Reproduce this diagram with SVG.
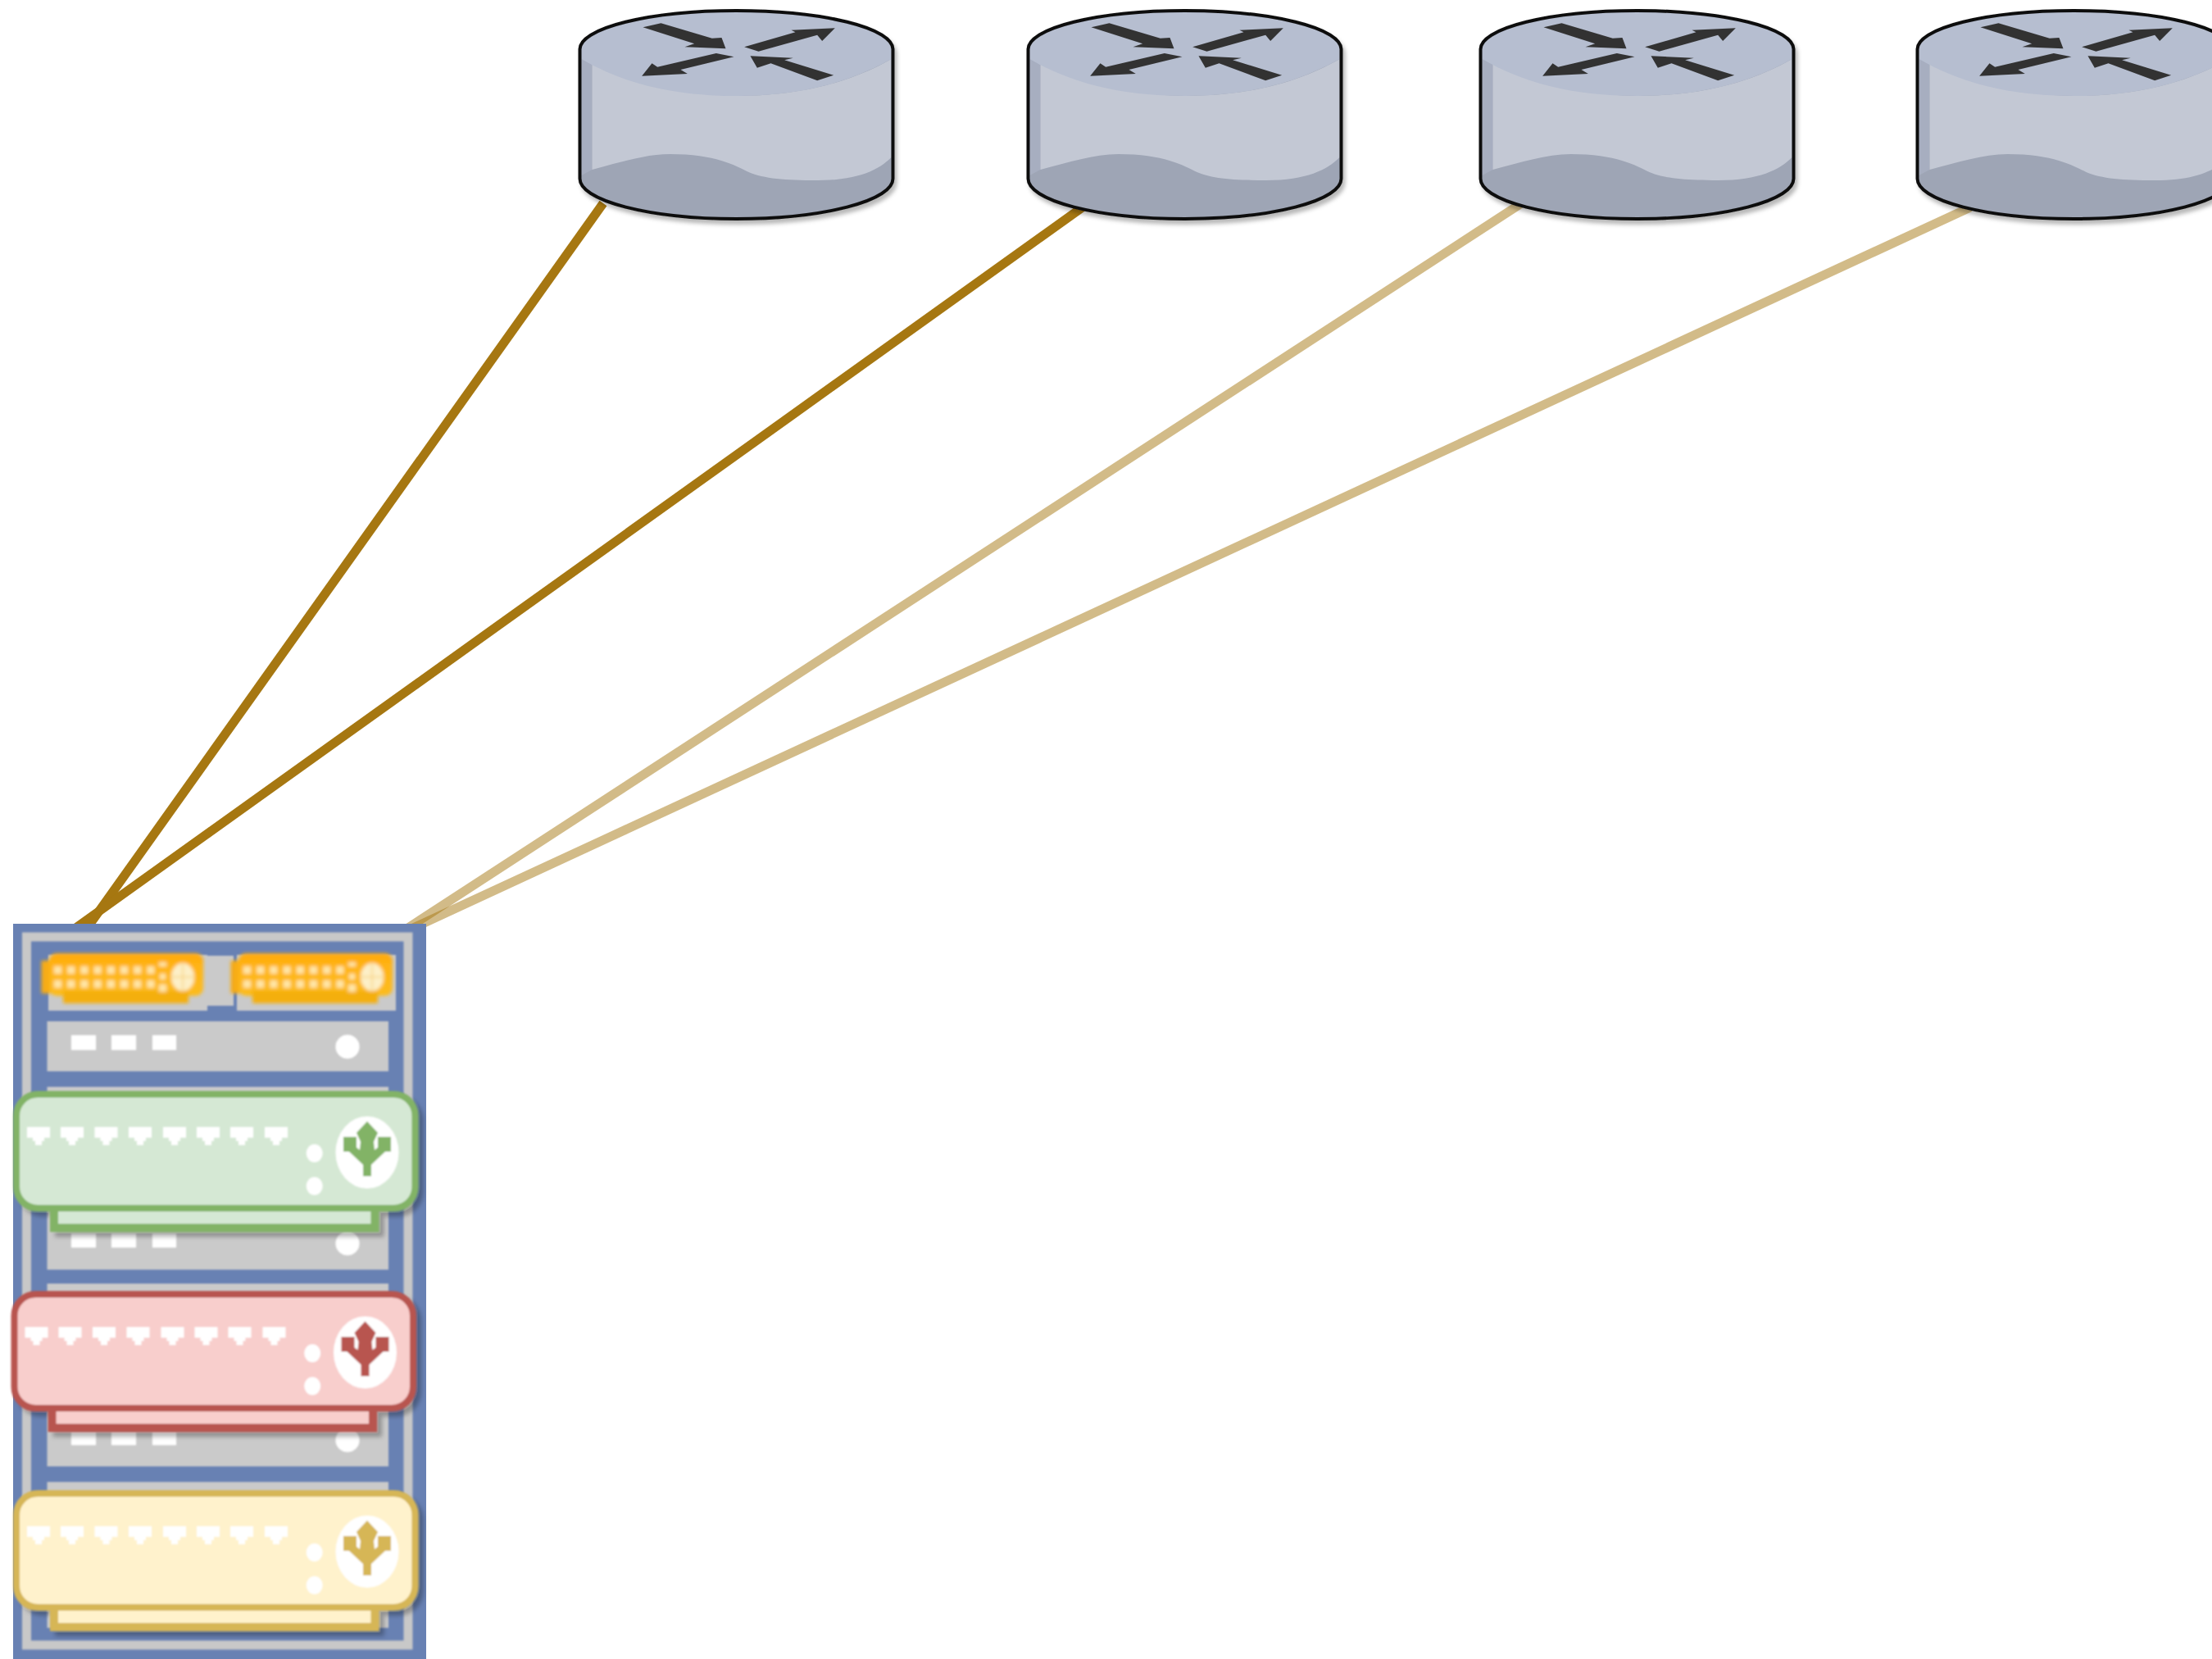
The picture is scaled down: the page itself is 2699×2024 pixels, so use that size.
<svg xmlns="http://www.w3.org/2000/svg" xmlns:xlink="http://www.w3.org/1999/xlink" width="2699" height="2024" viewBox="0 0 2699 2024">
<style>
.link{fill:none;stroke:#a67711;stroke-width:11}
.faint{stroke-opacity:.5}
.grey{fill:#cacaca}
.white{fill:#fff}
.body{stroke-width:8}
.foot{stroke-width:10}
.green{fill:#d5e8d4;stroke:#82b366}
.red{fill:#f8cecc;stroke:#b85450}
.yellow{fill:#fff2cc;stroke:#d6b656}
.iconG{fill:#82b366}.iconR{fill:#b85450}.iconY{fill:#d6b656}
</style>
<defs>
<filter id="soft" x="-5%" y="-5%" width="110%" height="110%"><feGaussianBlur stdDeviation="0.8"/></filter>
<filter id="softer" x="-10%" y="-10%" width="120%" height="120%"><feGaussianBlur stdDeviation="2"/></filter>
<filter id="swShadow" x="-5%" y="-10%" width="110%" height="125%"><feGaussianBlur in="SourceGraphic" stdDeviation="0.9" result="b"/><feDropShadow in="b" dx="6" dy="6" stdDeviation="2.5" flood-color="#000" flood-opacity="0.28"/></filter>
<filter id="rtShadow" x="-5%" y="-5%" width="110%" height="115%"><feGaussianBlur in="SourceGraphic" stdDeviation="0.6" result="b"/><feDropShadow in="b" dx="3" dy="5" stdDeviation="2.5" flood-color="#000" flood-opacity="0.28"/></filter>
<linearGradient id="amber" x1="0" y1="0" x2="0" y2="1"><stop offset="0" stop-color="#ffa808"/><stop offset=".3" stop-color="#ffb414"/><stop offset="1" stop-color="#fcbc20"/></linearGradient>

<g id="router">
<path d="M0 60A191 47 0 0 1 382 60V218A191 49 0 0 1 0 218Z" fill="#9ea5b5"/>
<path d="M0 60H15V207L0 215Z" fill="#a7aec0"/>
<path d="M15 78C90 108 150 117 192 117C280 117 340 95 380 72V192C365 207 340 220 290 220C250 220 225 218 206 210C190 202 165 188 110 188C80 188 50 198 15 207Z" fill="#c3c8d4"/>
<path d="M2 60A189 47 0 0 1 380 60V72C330 100 270 117 192 117C110 117 50 100 2 72Z" fill="#b6bed0"/>
<path d="M0 60A191 47 0 0 1 382 60V218A191 49 0 0 1 0 218Z" fill="none" stroke="#111" stroke-width="4"/>
<g transform="translate(-27 0) scale(.33333)" fill="#333">
<path d="M312 100L378 85L565 140L600 138L615 178L465 172L500 160Z"/>
<path d="M683 172L870 118L855 110L1015 103L968 150L950 128L735 188Z"/>
<path d="M580 195L645 208L450 255L475 270L308 278L345 232L365 245Z"/>
<path d="M1010 275L950 295L780 232L730 248L705 205L862 212L830 220Z"/>
</g>
</g>

<path id="port" d="M33 1375H61V1388H54V1392H51V1397H43V1392H40V1388H33Z"/>
<g id="ports" class="white">
<use xlink:href="#port"/><use xlink:href="#port" x="41"/><use xlink:href="#port" x="82.500"/><use xlink:href="#port" x="124"/><use xlink:href="#port" x="166"/><use xlink:href="#port" x="207"/><use xlink:href="#port" x="248"/><use xlink:href="#port" x="290"/>
<ellipse cx="383.700" cy="1407" rx="10" ry="11"/><ellipse cx="383.700" cy="1447" rx="10" ry="11"/>
<ellipse cx="448" cy="1406" rx="38.500" ry="44"/>
</g>
<path id="arrows" d="M-5 29V15L-22-1H-29V-19H-13V-6L-9-3L-8-13L-13-24L0-38L13-24L8-13L9-3L13-6V-19H29V-1H22L5 15V29Z"/>

<g id="amberSwitch">
<rect x="50.500" y="1172" width="12" height="40" fill="#f7ac12"/>
<rect x="60" y="1163" width="188" height="52" rx="9" fill="url(#amber)"/>
<rect x="77" y="1209" width="153" height="15" fill="#f4af0e"/>
<g fill="#ffe6a6">
<path d="M66 1179h9v9h-9zM82.200 1179h9v9h-9zM98.400 1179h9v9h-9zM114.600 1179h9v9h-9zM130.800 1179h9v9h-9zM147 1179h9v9h-9zM163.200 1179h9v9h-9zM179.400 1179h9v9h-9zM66 1196h9v9h-9zM82.200 1196h9v9h-9zM98.400 1196h9v9h-9zM114.600 1196h9v9h-9zM130.800 1196h9v9h-9zM147 1196h9v9h-9zM163.200 1196h9v9h-9zM179.400 1196h9v9h-9z"/>
<rect x="194" y="1174" width="9" height="5"/><rect x="195" y="1188" width="7" height="7"/><rect x="194" y="1201" width="9" height="9"/>
</g>
<ellipse cx="223" cy="1192" rx="14" ry="17" fill="#fdf0c8"/>
<path d="M223 1176V1208M209.500 1192H236.500" stroke="#f8d68a" stroke-width="2"/>
</g>
</defs>

<rect width="2699" height="2024" fill="#fff"/>

<g id="connectors">
<path class="link" d="M736 248L100 1141"/>
<path class="link" d="M1322 252L80 1141"/>
<path class="link faint" d="M1858 247L484 1141"/>
<path class="link faint" d="M2404 253L485 1141"/>
</g>

<g id="router-1"><use xlink:href="#router" x="707.500" filter="url(#rtShadow)"/></g>
<g id="router-2"><use xlink:href="#router" x="1254.500" filter="url(#rtShadow)"/></g>
<g id="router-3"><use xlink:href="#router" x="1806.500" filter="url(#rtShadow)"/></g>
<g id="router-4"><use xlink:href="#router" x="2339.500" filter="url(#rtShadow)"/></g>

<g id="rack">
<rect x="16" y="1127" width="504" height="897" fill="#6881b3"/>
<rect x="32.500" y="1143" width="465.500" height="864" fill="none" stroke="#c8c8c8" stroke-width="11" filter="url(#soft)"/>
<g filter="url(#soft)">
<rect class="grey" x="59" y="1165" width="194" height="68"/>
<rect class="grey" x="253" y="1166" width="32" height="61"/>
<rect class="grey" x="289" y="1165" width="194" height="68"/>
<rect class="grey" x="57.500" y="1246" width="416.500" height="61"/>
<rect class="grey" x="57.500" y="1326" width="416.500" height="223"/>
<rect class="grey" x="57.500" y="1566" width="416.500" height="223"/>
<rect class="grey" x="57.500" y="1808" width="416.500" height="178"/>
<g class="white">
<rect x="87" y="1263" width="30" height="18"/><rect x="136" y="1263" width="30" height="18"/><rect x="186" y="1263" width="29" height="18"/><circle cx="424" cy="1277" r="14.500"/>
<rect x="87" y="1505" width="30" height="17"/><rect x="136" y="1505" width="30" height="17"/><rect x="186" y="1505" width="29" height="17"/><circle cx="424" cy="1517" r="14.500"/>
<rect x="87" y="1747" width="30" height="16"/><rect x="136" y="1747" width="30" height="16"/><rect x="186" y="1747" width="29" height="16"/><circle cx="424" cy="1757" r="14.500"/>
</g>
</g>
</g>

<g id="switch-amber-1" filter="url(#softer)"><use xlink:href="#amberSwitch"/></g>
<g id="switch-amber-2" filter="url(#softer)"><use xlink:href="#amberSwitch" x="231"/></g>

<g id="switch-green" filter="url(#swShadow)">
<rect class="green foot" x="66" y="1470" width="391.500" height="28"/>
<rect class="green body" x="20" y="1335" width="486.500" height="139" rx="26"/>
<use xlink:href="#ports"/>
<use xlink:href="#arrows" class="iconG" x="448" y="1406"/>
</g>
<g id="switch-red" filter="url(#swShadow)" transform="translate(-2.500 244)">
<rect class="red foot" x="66" y="1470" width="391.500" height="28"/>
<rect class="red body" x="20" y="1335" width="486.500" height="139" rx="26"/>
<use xlink:href="#ports"/>
<use xlink:href="#arrows" class="iconR" x="448" y="1406"/>
</g>
<g id="switch-yellow" filter="url(#swShadow)" transform="translate(0 487)">
<rect class="yellow foot" x="66" y="1470" width="391.500" height="28"/>
<rect class="yellow body" x="20" y="1335" width="486.500" height="139" rx="26"/>
<use xlink:href="#ports"/>
<use xlink:href="#arrows" class="iconY" x="448" y="1406"/>
</g>
</svg>
